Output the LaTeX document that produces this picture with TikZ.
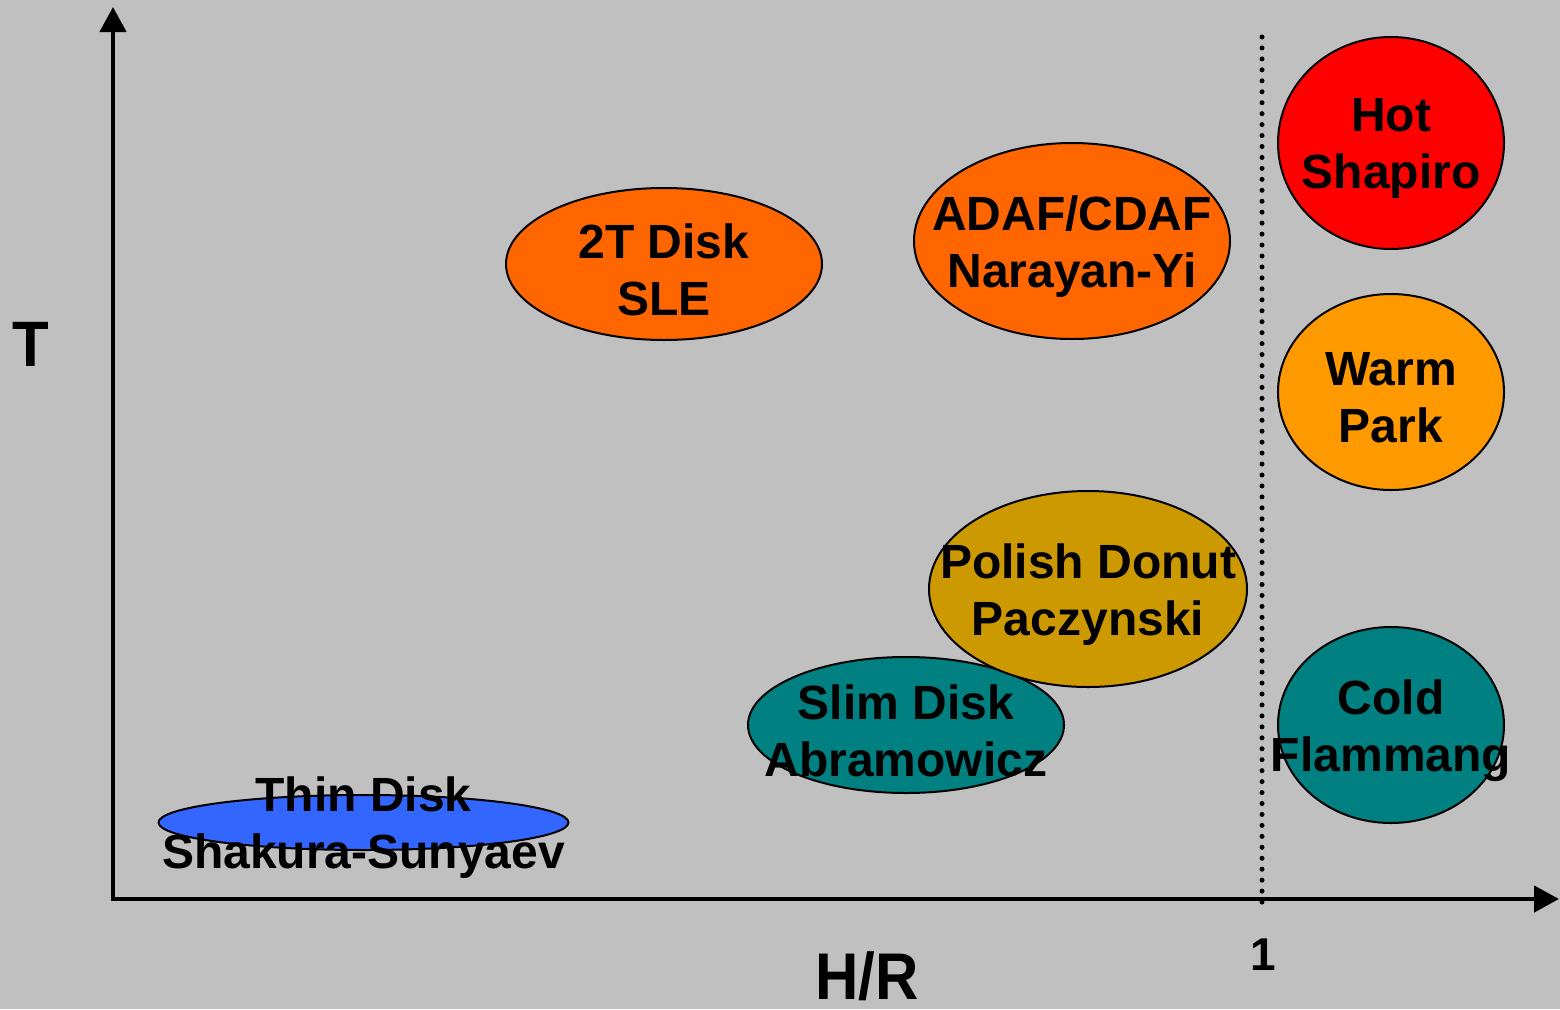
\documentclass[tikz,border=0pt]{standalone}
\usepackage{fontspec}
\setmainfont{Liberation Sans}
\usetikzlibrary{shapes.geometric,arrows.meta}
\definecolor{bg}{RGB}{192,192,192}
\definecolor{thinblue}{RGB}{51,102,255}
\definecolor{tealc}{RGB}{0,128,128}
\definecolor{donut}{RGB}{204,153,0}
\definecolor{orangec}{RGB}{255,102,0}
\definecolor{hotred}{RGB}{255,0,0}
\definecolor{warmc}{RGB}{255,153,0}
\tikzset{
  blob/.style={ellipse, draw=black, line width=2pt, inner sep=0pt},
  lbl/.style={align=center, font=\bfseries\fontsize{48}{57}\selectfont, inner sep=0pt, yshift=-5.5pt},
  axis/.style={line width=4.5pt, -{Triangle[length=25pt,width=26pt]}},
}
\begin{document}
\begin{tikzpicture}[x=1pt,y=-1pt]
\useasboundingbox (0,0) rectangle (1560,1009);
\fill[bg] (0,0) rectangle (1560,1009);
% ellipses
\node[blob, fill=thinblue, minimum width=410pt, minimum height=55pt] (thin) at (363.5,822.5) {};
\node[blob, fill=tealc, minimum width=316pt, minimum height=136pt] (slim) at (906,725) {};
\node[blob, fill=donut, minimum width=318pt, minimum height=196pt] (polish) at (1088,589) {};
\node[blob, fill=orangec, minimum width=316pt, minimum height=152pt] (twot) at (664,264) {};
\node[blob, fill=orangec, minimum width=316pt, minimum height=196pt] (adaf) at (1072,241) {};
\node[blob, fill=hotred, minimum width=226pt, minimum height=212pt] (hot) at (1391,143) {};
\node[blob, fill=warmc, minimum width=226pt, minimum height=196pt] (warm) at (1391,392) {};
\node[blob, fill=tealc, minimum width=226pt, minimum height=196pt] (cold) at (1391,725) {};
% dotted line
\coordinate (dtop) at (1262,37);
\coordinate (dbot) at (1262,912);
\draw[line width=5pt, line cap=round, dash pattern=on 0pt off 10.95pt] (dtop) -- (dbot);
% axes
\coordinate (orig) at (113,899);
\coordinate (ytip) at (113,7);
\coordinate (xtip) at (1559,899);
\coordinate (origx) at (110.75,899);
\draw[axis] (orig) -- (ytip);
\draw[axis] (origx) -- (xtip);
% labels
\node[lbl] (thinl) at (thin) {Thin Disk\\Shakura-Sunyaev};
\node[lbl] (sliml) at (slim) {Slim Disk\\Abramowicz};
\node[lbl] (polishl) at (polish) {Polish Donut\\Paczynski};
\node[lbl] (twotl) at (twot) {2T Disk\\SLE};
\node[lbl] (adafl) at (adaf) {ADAF/CDAF\\Narayan-Yi};
\node[lbl] (hotl) at (hot) {Hot\\Shapiro};
\node[lbl] (warml) at (warm) {Warm\\Park};
\node[lbl] (coldl) at (cold) {Cold\\Flammang};
\node[font=\bfseries\fontsize{60}{64}\selectfont, inner sep=0pt] (tlab) at (30.5,344) {\scalebox{1}[1.07]{T}};
\node[font=\bfseries\fontsize{60}{64}\selectfont, inner sep=0pt] (hrlab) at (867,976) {\scalebox{1}[1.1]{H/R}};
\node[font=\bfseries\fontsize{46}{50}\selectfont, inner sep=0pt] (onelab) at (1263,955) {1};
\end{tikzpicture}
\end{document}
